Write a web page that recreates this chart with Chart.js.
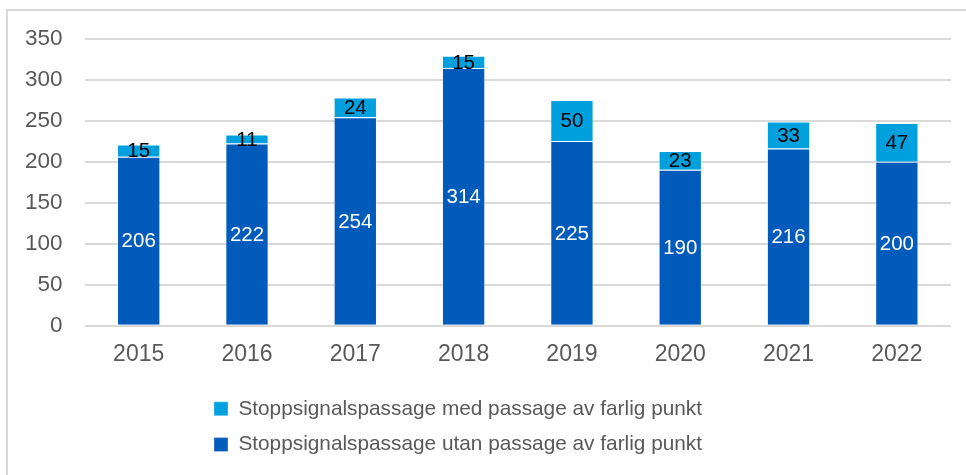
<!DOCTYPE html>
<html>
<head>
<meta charset="utf-8">
<script src="https://cdn.jsdelivr.net/npm/chart.js@4"></script>
<style>
  html, body { margin: 0; padding: 0; background: #fff; overflow: hidden; }
  #wrap { position: absolute; left: 0; top: 0; width: 966px; height: 475px; }
  #frame { position: absolute; left: 6px; top: 9px; width: 1000px; height: 500px; border: 2px solid #d9d9d9; box-sizing: border-box; }
  canvas { position: absolute; left: 0; top: 0; }
</style>
</head>
<body>
<div id="frame"></div>
<div id="wrap"><canvas id="c" width="966" height="475"></canvas></div>
<script>
const years = ['2015', '2016', '2017', '2018', '2019', '2020', '2021', '2022'];
const utanPassage = [206, 222, 254, 314, 225, 190, 216, 200];
const medPassage = [15, 11, 24, 15, 50, 23, 33, 47];
const labelUtan = 'Stoppsignalspassage utan passage av farlig punkt';
const labelMed = 'Stoppsignalspassage med passage av farlig punkt';
const yTicks = [0, 50, 100, 150, 200, 250, 300, 350];

const FONT = '"Liberation Sans", Arial, sans-serif';

const segLabels = {
  id: 'segLabels',
  afterDatasetsDraw(chart) {
    const ctx = chart.ctx;
    ctx.save();
    ctx.font = '20.5px ' + FONT;
    ctx.textAlign = 'center';
    ctx.textBaseline = 'middle';
    chart.data.datasets.forEach((ds, di) => {
      const meta = chart.getDatasetMeta(di);
      meta.data.forEach((el, i) => {
        const p = el.getProps(['x', 'y', 'base'], true);
        ctx.fillStyle = ds.labelColor;
        ctx.fillText(String(ds.data[i]), p.x, (p.y + p.base) / 2 + 1);
      });
    });
    ctx.restore();
  }
};

const legendShift = {
  id: 'legendShift',
  afterLayout(chart) {
    const lg = chart.legend;
    if (lg) { lg.left -= 19; lg.right -= 19; }
  }
};

new Chart(document.getElementById('c'), {
  type: 'bar',
  data: {
    labels: years,
    datasets: [
      { label: labelUtan, data: utanPassage, backgroundColor: '#005bbb', borderColor: 'rgba(255,255,255,0.35)', borderWidth: 1, labelColor: '#ffffff', barPercentage: 0.8, categoryPercentage: 0.5 },
      { label: labelMed, data: medPassage, backgroundColor: '#00a0df', borderColor: 'rgba(255,255,255,0.35)', borderWidth: 1, labelColor: '#000000', barPercentage: 0.8, categoryPercentage: 0.5 }
    ]
  },
  options: {
    responsive: false,
    animation: false,
    devicePixelRatio: 1,
    layout: { padding: { left: 3, right: 15, top: 38.5, bottom: 10 } },
    scales: {
      x: {
        stacked: true,
        grid: { display: false, drawTicks: false },
        border: { display: false },
        ticks: { color: '#595959', font: { family: FONT, size: 23 }, padding: 15 }
      },
      y: {
        stacked: true,
        min: 0, max: 350,
        afterBuildTicks(axis) { axis.ticks = yTicks.map(v => ({ value: v })); },
        grid: { color: '#d9d9d9', lineWidth: 2, drawTicks: false },
        border: { display: false },
        ticks: { color: '#595959', font: { family: FONT, size: 22.5 }, padding: 22 }
      }
    },
    plugins: {
      legend: {
        position: 'bottom',
        reverse: true,
        labels: {
          color: '#595959',
          font: { family: FONT, size: 20.8 },
          boxWidth: 14, boxHeight: 14,
          padding: 15
        }
      },
      tooltip: { enabled: false }
    }
  },
  plugins: [segLabels, legendShift]
});
</script>
</body>
</html>
